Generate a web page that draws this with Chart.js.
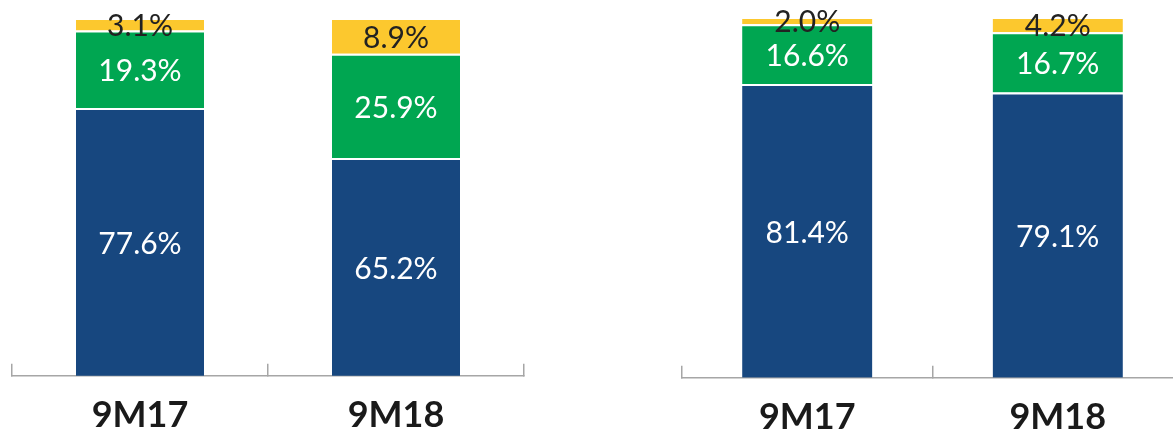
<!DOCTYPE html>
<html>
<head>
<meta charset="utf-8">
<script src="https://cdn.jsdelivr.net/npm/chart.js@4.4.1/dist/chart.umd.min.js"></script>
<style>
  html, body { margin: 0; padding: 0; background: #fff; overflow: hidden; width: 1173px; height: 434px; }
  canvas { position: absolute; top: 0; }
  #leftChart { left: 0; }
  #rightChart { left: 670px; }
</style>
</head>
<body>
<canvas id="leftChart" width="536" height="467"></canvas>
<canvas id="rightChart" width="525" height="469"></canvas>
<script>
const categories = ["9M17", "9M18"];

const leftBlue = [77.6, 65.2];
const leftGreen = [19.3, 25.9];
const leftYellow = [3.1, 8.9];

const rightBlue = [81.4, 79.1];
const rightGreen = [16.6, 16.7];
const rightYellow = [2.0, 4.2];

const colors = { blue: "#17477F", green: "#00A651", yellow: "#FCC82E", axis: "#A6A6A6" };

// writes the share in the middle of each stacked segment
const segmentLabels = {
  id: "segmentLabels",
  afterDatasetsDraw(chart) {
    const { ctx, chartArea } = chart;
    ctx.save();
    ctx.font = "30px Lato";
    ctx.textAlign = "center";
    ctx.textBaseline = "middle";
    chart.data.datasets.forEach((ds, i) => {
      chart.getDatasetMeta(i).data.forEach((bar, j) => {
        const top = Math.max(bar.y, chartArea.top);
        const bottom = Math.min(bar.base, chartArea.bottom);
        ctx.fillStyle = ds.labelColor;
        ctx.fillText(ds.data[j].toFixed(1) + "%", bar.x, (top + bottom) / 2 + 2);
      });
    });
    ctx.restore();
  }
};

function makeChart(id, blue, green, yellow, yMin, barPct, topPad) {
  const seg = (label, data, color, labelColor) => ({
    label,
    data,
    backgroundColor: color,
    borderColor: "#ffffff",
    borderWidth: { top: 2, left: 0, right: 0, bottom: 0 },
    borderSkipped: false,
    labelColor
  });

  return new Chart(document.getElementById(id), {
    type: "bar",
    data: {
      labels: categories,
      datasets: [
        seg("Segment 1", blue, colors.blue, "#ffffff"),
        seg("Segment 2", green, colors.green, "#ffffff"),
        seg("Segment 3", yellow, colors.yellow, "#222222")
      ]
    },
    options: {
      responsive: false,
      animation: false,
      clip: 0,
      layout: { padding: { left: 12, right: 12, top: topPad, bottom: 0 } },
      datasets: { bar: { categoryPercentage: 1, barPercentage: barPct } },
      plugins: { legend: { display: false }, tooltip: { enabled: false } },
      scales: {
        x: {
          stacked: true,
          border: { display: true, color: colors.axis, width: 1.5 },
          grid: {
            offset: true,
            drawOnChartArea: false,
            drawTicks: true,
            tickLength: -12,
            color: colors.axis,
            lineWidth: 1.5
          },
          ticks: {
            color: "#1a1a1a",
            padding: 30,
            font: { family: "Lato", size: 36, weight: "bold", lineHeight: 1.2 }
          }
        },
        y: { stacked: true, display: false, min: yMin, max: 100 }
      }
    },
    plugins: [segmentLabels]
  });
}

makeChart("leftChart", leftBlue, leftGreen, leftYellow, 11, 0.5, 18);
makeChart("rightChart", rightBlue, rightGreen, rightYellow, 0, 0.52, 17);
</script>
</body>
</html>
